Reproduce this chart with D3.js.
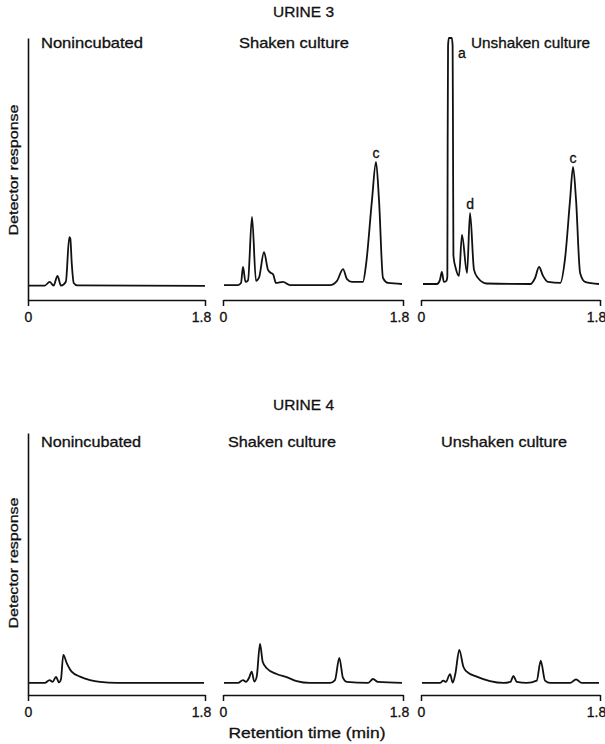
<!DOCTYPE html>
<html>
<head>
<meta charset="utf-8">
<script src="https://cdn.jsdelivr.net/npm/d3@7"></script>
<style>
  body { margin: 0; background: #fff; }
  svg text { font-family: "Liberation Sans", Arial, Helvetica, sans-serif; fill: #111; stroke: #111; stroke-width: 0.3px; }
</style>
</head>
<body>
<script>
// ---------------- DATA ----------------
const rowTitles = ["URINE 3", "URINE 4"];
const panelNames = ["Nonincubated", "Shaken culture", "Unshaken culture"];
const timeDomain = [0, 1.8];
const responseDomain = [0, 100];
const xTickValues = [0, 1.8];
const xTickLabels = ["0", "1.8"];
const yAxisTitle = "Detector response";
const xAxisTitle = "Retention time (min)";

// [retention time (min), detector response (arbitrary, 100 = full scale)]
const urine3Nonincubated = [[0,5.5],[0.17,5.5],[0.22,6.9],[0.26,5.5],[0.30,9.2],[0.335,5.5],[0.385,7],[0.42,24],[0.43,23.5],[0.445,14],[0.465,6.5],[0.50,5.6],[1.8,5.4]];
const urine3Shaken = [[0.01,5.7],[0.15,5.7],[0.18,6.5],[0.20,12.6],[0.225,6.9],[0.25,7.5],[0.29,31.7],[0.33,7.3],[0.36,8.5],[0.41,18.3],[0.45,11.5],[0.48,10.3],[0.50,9.9],[0.53,6.5],[0.60,6.9],[0.67,5.7],[1.07,5.7],[1.14,7.3],[1.20,11.8],[1.24,8.0],[1.29,6.9],[1.40,6.9],[1.43,13.4],[1.49,38.2],[1.53,52.7],[1.56,38.2],[1.60,8.4],[1.65,6.5],[1.79,6.1]];
const urine3Unshaken = [[0.02,6.1],[0.16,6.1],[0.19,7.6],[0.21,10.7],[0.23,6.9],[0.255,7.3],[0.265,9],[0.268,60],[0.272,97],[0.28,100],[0.31,100],[0.318,97],[0.322,60],[0.326,17],[0.35,12],[0.382,9.2],[0.412,24.8],[0.463,10.3],[0.493,33.2],[0.533,11.5],[0.573,8.4],[0.66,6.3],[1.10,6.1],[1.147,8.4],[1.187,12.6],[1.227,9.2],[1.278,6.9],[1.40,6.5],[1.449,16.0],[1.499,38.2],[1.529,50.8],[1.559,38.2],[1.60,10.3],[1.65,6.9],[1.79,6.1]];
const urine4Nonincubated = [[0,4.6],[0.17,4.6],[0.22,5.7],[0.25,5.0],[0.285,6.9],[0.315,4.8],[0.335,6],[0.359,15.3],[0.394,12.2],[0.444,8.9],[0.529,7.0],[0.631,5.7],[0.732,5.0],[0.905,4.6],[1.79,4.6]];
const urine4Shaken = [[0.01,4.6],[0.15,4.6],[0.20,5.7],[0.23,5.0],[0.26,6.5],[0.287,8.9],[0.313,5.1],[0.337,7],[0.37,19.5],[0.397,12.7],[0.437,10.2],[0.537,8.0],[0.637,6.8],[0.737,5.3],[0.87,4.6],[1.07,4.6],[1.12,5.7],[1.163,14.2],[1.20,6.5],[1.237,5.0],[1.45,4.6],[1.50,6.1],[1.55,5.0],[1.79,4.6]];
const urine4Unshaken = [[0.01,4.6],[0.19,4.6],[0.224,5.5],[0.25,5.0],[0.292,8.0],[0.319,4.7],[0.345,8],[0.385,17.2],[0.426,10.8],[0.46,8.9],[0.56,7.0],[0.694,5.3],[0.828,4.6],[0.90,5.0],[0.929,7.3],[0.963,5.0],[1.063,4.6],[1.164,5.5],[1.204,13.1],[1.247,5.5],[1.298,4.6],[1.50,4.6],[1.559,6.0],[1.616,4.6],[1.79,4.6]];

// peak annotations: [row, panel, label, time, response]
const peakLabels = [
  [0, 1, "c", 1.53, 52.7],
  [0, 2, "a", 0.31, 100],
  [0, 2, "d", 0.493, 33.2],
  [0, 2, "c", 1.529, 50.8]
];

const traces = [
  [urine3Nonincubated, urine3Shaken, urine3Unshaken],
  [urine4Nonincubated, urine4Shaken, urine4Unshaken]
];

// ---------------- LAYOUT ----------------
const W = 605, H = 744;
const rows = [
  { axis: 300, top: 38, title: 17, label: 48, yTitleCenter: 170,
    nameX: [41, 239, 471], nameW: [102, 110, 119] },
  { axis: 695, top: 433, title: 410, label: 447, yTitleCenter: 563,
    nameX: [41, 228, 441], nameW: [100, 108, 126] }
];
const panelX = [[28, 205], [223, 403], [421, 600]];

const svg = d3.select("body").append("svg")
  .attr("width", W).attr("height", H)
  .attr("viewBox", `0 0 ${W} ${H}`);

svg.append("rect").attr("width", W).attr("height", H).attr("fill", "#fff");

rows.forEach((row, ri) => {
  const y = d3.scaleLinear().domain(responseDomain).range([row.axis, row.top]);

  svg.append("text")
    .attr("x", 303.5).attr("y", row.title)
    .attr("text-anchor", "middle")
    .attr("font-size", 14.5)
    .attr("textLength", 61).attr("lengthAdjust", "spacingAndGlyphs")
    .text(rowTitles[ri]);

  // y axis title
  svg.append("text")
    .attr("transform", `translate(18,${row.yTitleCenter}) rotate(-90)`)
    .attr("text-anchor", "middle")
    .attr("font-size", 13.5)
    .attr("textLength", 131).attr("lengthAdjust", "spacingAndGlyphs")
    .text(yAxisTitle);

  panelX.forEach((px, pi) => {
    const x = d3.scaleLinear().domain(timeDomain).range(px);
    const g = svg.append("g");

    // x axis
    const xa = g.append("g")
      .attr("transform", `translate(0,${row.axis})`)
      .call(d3.axisBottom(x).tickValues(xTickValues).tickSize(6).tickSizeOuter(0)
        .tickFormat((d, i) => xTickLabels[i]));
    xa.select(".domain").attr("stroke", "#111").attr("stroke-width", 1.6);
    xa.selectAll(".tick line").attr("stroke", "#111").attr("stroke-width", 1.5);
    xa.selectAll(".tick text")
      .attr("font-family", '"Liberation Sans", Arial, sans-serif')
      .attr("font-size", 14).attr("fill", "#111")
      .attr("y", 12)
      .attr("x", d => d === 1.8 ? -4 : 0);

    // y axis (first panel only)
    if (pi === 0) {
      const ya = g.append("g")
        .attr("transform", `translate(${px[0]},0)`)
        .call(d3.axisLeft(y).tickValues([]).tickSizeOuter(0));
      ya.select(".domain").attr("stroke", "#111").attr("stroke-width", 1.6);
    }

    // trace
    const line = d3.line()
      .x(d => x(d[0])).y(d => y(d[1]))
      .curve(d3.curveMonotoneX);
    g.append("path")
      .datum(traces[ri][pi])
      .attr("d", line)
      .attr("fill", "none")
      .attr("stroke", "#111")
      .attr("stroke-width", 1.8)
      .attr("stroke-linejoin", "round");

    // panel name
    g.append("text")
      .attr("x", row.nameX[pi]).attr("y", row.label)
      .attr("font-size", 14.5)
      .attr("textLength", row.nameW[pi]).attr("lengthAdjust", "spacingAndGlyphs")
      .text(panelNames[pi]);

    // peak labels
    peakLabels.filter(p => p[0] === ri && p[1] === pi).forEach(p => {
      const isA = p[2] === "a";
      g.append("text")
        .attr("x", isA ? x(p[3]) + 10 : x(p[3]))
        .attr("y", isA ? y(p[4]) + 20 : y(p[4]) - 4)
        .attr("text-anchor", "middle")
        .attr("font-size", 14)
        .text(p[2]);
    });
  });

  if (ri === 1) {
    svg.append("text")
      .attr("x", 307).attr("y", 738)
      .attr("text-anchor", "middle")
      .attr("font-size", 14.5)
      .attr("textLength", 157).attr("lengthAdjust", "spacingAndGlyphs")
      .text(xAxisTitle);
  }
});
</script>
</body>
</html>
